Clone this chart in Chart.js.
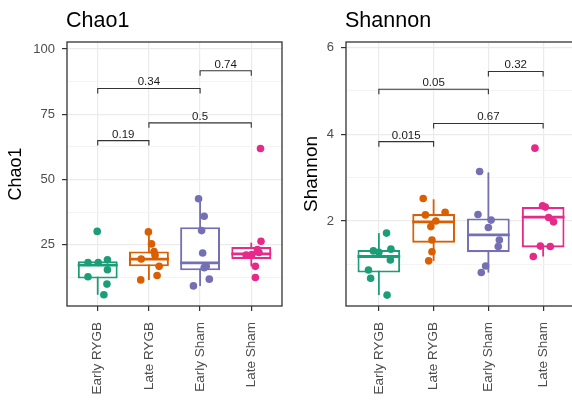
<!DOCTYPE html>
<html><head><meta charset="utf-8">
<script src="https://cdn.jsdelivr.net/npm/chart.js@4.4.1/dist/chart.umd.min.js"></script>
<style>
html,body{margin:0;padding:0;overflow:hidden;background:#fff;width:572px;height:404px;}
canvas{position:absolute;top:0;}
#c1{left:0}
#c2{left:290px}
</style></head><body>
<canvas id="c1" width="290" height="404"></canvas>
<canvas id="c2" width="300" height="404"></canvas>
<script>
// ---------- shared ----------
const groups = ['Early RYGB', 'Late RYGB', 'Early Sham', 'Late Sham'];
const groupColors = ['#1B9E77', '#D95F02', '#7570B3', '#E7298A'];

// ---------- Chao1 ----------
const chao1Values = [
  [30.1, 18.2, 18.2, 19.2, 15.4, 12.7, 9.9, 5.8],
  [29.9, 25.3, 22.4, 19.5, 16.7, 21.0, 13.2, 11.5],
  [42.6, 35.9, 30.4, 21.8, 16.7, 16.2, 11.8, 9.2],
  [61.9, 26.3, 23.1, 22.0, 21.2, 21.0, 16.7, 12.4]
];
const chao1Jitter = [
  [-0.01, -0.19, 0.01, 0.19, 0.19, -0.19, 0.18, 0.12],
  [-0.01, 0.05, 0.10, -0.15, 0.20, 0.12, 0.16, -0.16],
  [-0.03, 0.08, 0.03, 0.05, 0.12, 0.08, 0.18, -0.13],
  [0.18, 0.19, 0.12, 0.15, 0.01, -0.10, 0.08, 0.08]
];
const chao1Q1 = [12.0, 16.7, 15.2, 19.5];
const chao1Median = [17.2, 19.5, 18.0, 21.5];
const chao1Q3 = [18.7, 22.4, 31.7, 24.1];
const chao1WhiskerLow = [5.8, 11.5, 9.2, 16.7];
const chao1WhiskerHigh = [19.2, 29.9, 42.6, 25.8];
const chao1TickValues = [25, 50, 75, 100];
const chao1GridValues = [12.5, 25, 37.5, 50, 62.5, 75, 87.5, 100];
const chao1BracketFrom = [1, 2, 1, 3];
const chao1BracketTo = [2, 4, 3, 4];
const chao1BracketY = [64.9, 71.7, 84.9, 91.7];
const chao1BracketLabels = ['0.19', '0.5', '0.34', '0.74'];

// ---------- Shannon ----------
const shannonValues = [
  [1.72, 1.35, 1.31, 1.28, 1.10, 0.87, 0.68, 0.29],
  [2.52, 2.14, 2.20, 2.00, 1.87, 1.56, 1.29, 1.08],
  [3.14, 2.15, 2.02, 1.85, 1.56, 1.41, 0.96, 0.81],
  [3.68, 2.35, 2.32, 2.08, 1.98, 1.42, 1.41, 1.18]
];
const shannonJitter = [
  [0.14, 0.22, -0.10, 0.00, 0.21, -0.19, -0.15, 0.15],
  [-0.19, -0.15, 0.21, 0.04, -0.05, -0.03, -0.03, -0.09],
  [-0.16, -0.19, 0.05, 0.00, 0.20, 0.18, -0.05, -0.13],
  [-0.15, -0.01, 0.04, 0.10, 0.19, -0.05, 0.13, -0.18]
];
const shannonQ1 = [0.81, 1.50, 1.28, 1.39];
const shannonMedian = [1.18, 1.98, 1.68, 2.09];
const shannonQ3 = [1.33, 2.16, 2.06, 2.32];
const shannonWhiskerLow = [0.29, 1.08, 0.81, 1.18];
const shannonWhiskerHigh = [1.72, 2.50, 3.12, 2.35];
const shannonTickValues = [2, 4, 6];
const shannonGridValues = [1, 2, 3, 4, 5, 6];
const shannonBracketFrom = [1, 2, 1, 3];
const shannonBracketTo = [2, 4, 3, 4];
const shannonBracketY = [3.83, 4.25, 5.04, 5.45];
const shannonBracketLabels = ['0.015', '0.67', '0.05', '0.32'];

// ---------- rendering ----------
const FONT = '"Liberation Sans", Arial, Helvetica, sans-serif';
Chart.defaults.font.family = FONT;

const boxExtras = {
  id: 'boxExtras',
  beforeDatasetsDraw(chart) {
    const p = chart.config.options.panel;
    const { ctx, scales: { x, y } } = chart;
    ctx.save();
    ctx.lineWidth = 1.8;
    p.wLo.forEach((lo, i) => {
      const px = x.getPixelForValue(i + 1);
      ctx.strokeStyle = groupColors[i];
      ctx.beginPath();
      ctx.moveTo(px, y.getPixelForValue(lo));
      ctx.lineTo(px, y.getPixelForValue(p.wHi[i]));
      ctx.stroke();
    });
    ctx.restore();
  },
  afterDatasetDraw(chart, args) {
    if (args.meta.type !== 'bar') return;
    const p = chart.config.options.panel;
    const { ctx, scales: { y } } = chart;
    ctx.save();
    ctx.lineWidth = 2.8;
    args.meta.data.forEach((bar, i) => {
      const py = y.getPixelForValue(p.median[i]);
      const hw = bar.width / 2;
      ctx.strokeStyle = groupColors[i];
      ctx.beginPath();
      ctx.moveTo(bar.x - hw, py);
      ctx.lineTo(bar.x + hw, py);
      ctx.stroke();
    });
    ctx.restore();
  },
  afterDraw(chart) {
    const p = chart.config.options.panel;
    const { ctx, chartArea: a, scales: { x, y } } = chart;
    ctx.save();
    // bracket labels
    ctx.fillStyle = '#1a1a1a';
    ctx.font = '11.5px ' + FONT;
    ctx.textAlign = 'center';
    ctx.textBaseline = 'alphabetic';
    p.bLabels.forEach((t, k) => {
      const px = (x.getPixelForValue(p.bFrom[k]) + x.getPixelForValue(p.bTo[k])) / 2;
      ctx.fillText(t, px, y.getPixelForValue(p.bY[k]) - 3);
    });
    // panel border
    ctx.strokeStyle = '#333333';
    ctx.lineWidth = 1.3;
    ctx.strokeRect(a.left, a.top, a.right - a.left, a.bottom - a.top);
    // panel title
    ctx.fillStyle = '#000000';
    ctx.font = '21.5px ' + FONT;
    ctx.textAlign = 'left';
    ctx.fillText(p.title, a.left - 1, 26.5);
    ctx.restore();
  }
};

function makePanel(id, p) {
  const datasets = [];
  datasets.push({
    type: 'bar', order: 3,
    data: groups.map((g, i) => ({ x: i + 1, y: [p.q1[i], p.q3[i]] })),
    backgroundColor: '#ffffff', borderColor: groupColors, borderWidth: 2.1,
    borderSkipped: false, barPercentage: 0.78, categoryPercentage: 1
  });
  p.bFrom.forEach((f, k) => {
    const t = p.bTo[k], yv = p.bY[k];
    datasets.push({
      type: 'line', order: 2,
      data: [{ x: f, y: yv - p.tip }, { x: f, y: yv }, { x: t, y: yv }, { x: t, y: yv - p.tip }],
      borderColor: '#333333', borderWidth: 1.1, pointRadius: 0, fill: false, tension: 0
    });
  });
  p.values.forEach((vals, i) => {
    datasets.push({
      type: 'scatter', order: 1,
      data: vals.map((v, j) => ({ x: i + 1 + p.jitter[i][j], y: v })),
      backgroundColor: groupColors[i], borderWidth: 0, pointRadius: 3.8, pointHoverRadius: 3.8
    });
  });
  const isMajor = (c) => c.tick && p.yTicks.includes(c.tick.value);
  return new Chart(document.getElementById(id), {
    type: 'bar',
    data: { datasets },
    plugins: [boxExtras],
    options: {
      panel: p,
      responsive: false, animation: false, events: [],
      layout: { padding: { top: 42, right: p.padRight, left: 0, bottom: 0 } },
      plugins: { legend: { display: false }, tooltip: { enabled: false }, title: { display: false } },
      scales: {
        x: {
          type: 'linear', min: 0.4, max: 4.6, offset: false,
          afterBuildTicks: (s) => { s.ticks = [1, 2, 3, 4].map(v => ({ value: v })); },
          afterFit: (s) => { s.height = 98; },
          ticks: {
            autoSkip: false, minRotation: 90, maxRotation: 90, padding: 11,
            font: { size: 13.5 }, color: '#4D4D4D',
            callback: (v) => groups[v - 1] || ''
          },
          grid: { color: '#EBEBEB', lineWidth: 1.2, tickColor: '#333333', tickLength: 5, offset: false },
          border: { display: false }
        },
        y: {
          type: 'linear', min: p.yMin, max: p.yMax,
          afterBuildTicks: (s) => { s.ticks = p.yGrid.map(v => ({ value: v })); },
          afterFit: (s) => { s.width = p.yWidth; },
          ticks: {
            padding: 7, font: { size: 13 }, color: '#4D4D4D',
            callback: (v) => p.yTicks.includes(v) ? String(v) : ''
          },
          grid: {
            color: (c) => isMajor(c) ? '#EBEBEB' : '#F4F4F4',
            lineWidth: (c) => isMajor(c) ? 1.2 : 1,
            tickColor: (c) => isMajor(c) ? '#333333' : 'rgba(0,0,0,0)',
            tickLength: 5
          },
          border: { display: false },
          title: {
            display: true, text: p.yTitle, color: '#000000',
            font: { size: p.yTitleSize }, padding: { top: p.yTitlePad, bottom: 0 }
          }
        }
      }
    }
  });
}

makePanel('c1', {
  title: 'Chao1', yTitle: 'Chao1', yTitleSize: 18, yTitlePad: 5.5,
  yMin: 1.5, yMax: 102.7, yWidth: 67, padRight: 8, tip: 1.9,
  yTicks: chao1TickValues, yGrid: chao1GridValues,
  values: chao1Values, jitter: chao1Jitter,
  q1: chao1Q1, median: chao1Median, q3: chao1Q3, wLo: chao1WhiskerLow, wHi: chao1WhiskerHigh,
  bFrom: chao1BracketFrom, bTo: chao1BracketTo, bY: chao1BracketY, bLabels: chao1BracketLabels
});

makePanel('c2', {
  title: 'Shannon', yTitle: 'Shannon', yTitleSize: 19, yTitlePad: 10,
  yMin: 0.038, yMax: 6.13, yWidth: 56, padRight: 14, tip: 0.115,
  yTicks: shannonTickValues, yGrid: shannonGridValues,
  values: shannonValues, jitter: shannonJitter,
  q1: shannonQ1, median: shannonMedian, q3: shannonQ3, wLo: shannonWhiskerLow, wHi: shannonWhiskerHigh,
  bFrom: shannonBracketFrom, bTo: shannonBracketTo, bY: shannonBracketY, bLabels: shannonBracketLabels
});
</script>
</body></html>
